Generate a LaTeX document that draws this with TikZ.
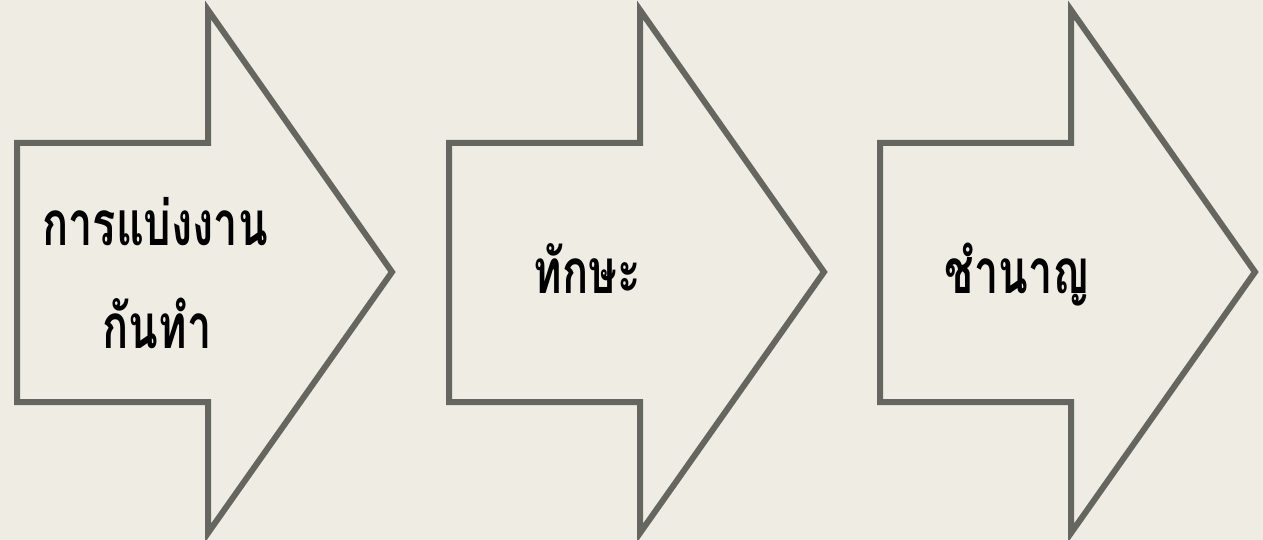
\documentclass[tikz,border=0pt]{standalone}
\usepackage{fontspec}
\usepackage{graphicx}
\newfontfamily\thaifont[Script=Thai]{Loma}
\definecolor{bgc}{HTML}{EFECE4}
\definecolor{edgec}{HTML}{666660}
\newcommand{\thlbl}[1]{\scalebox{0.7}[1]{#1}}
\begin{document}
\begin{tikzpicture}[x=1pt,y=-1pt,
  blockarrow/.style={draw=edgec,line width=6pt,line join=miter},
  lbl/.style={font=\thaifont\bfseries\fontsize{62}{70}\selectfont,text=black,inner sep=0pt,anchor=base}]
\fill[bgc] (0,0) rectangle (1263,540);
\useasboundingbox (0,0) rectangle (1263,540);
\foreach \x/\n in {17/a,449/b,880/c}{
  \draw[blockarrow] (\x,143) -- (\x+191,143) -- (\x+191,10) -- (\x+375,272)
     -- (\x+191,533) -- (\x+191,402) -- (\x,402) -- cycle;
}
\node[lbl] (ta1) at (155,245) {\thlbl{การแบ่งงาน}};
\node[lbl] (ta2) at (157,348) {\thlbl{กันทำ}};
\node[lbl] (tb) at (587,293) {\thlbl{ทักษะ}};
\node[lbl] (tc) at (1017,293) {\thlbl{ชำนาญ}};
\end{tikzpicture}
\end{document}
